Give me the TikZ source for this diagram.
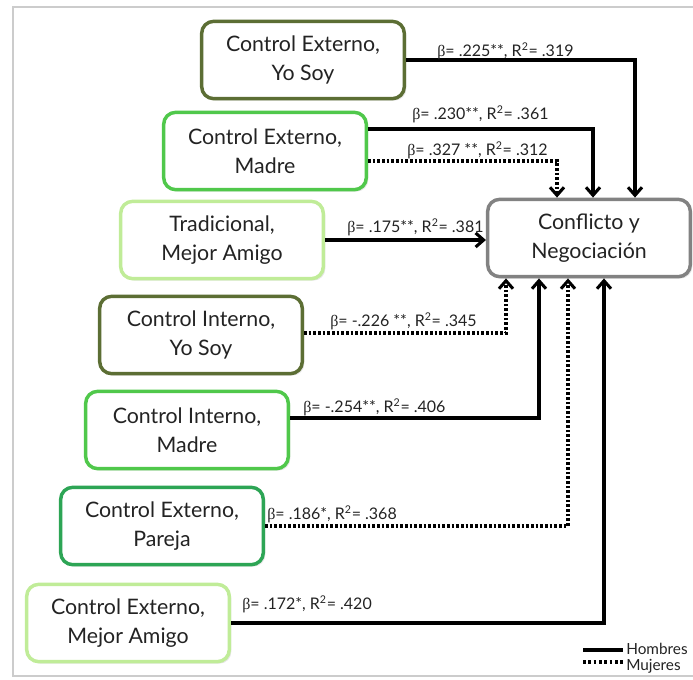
\documentclass[tikz,border=0pt]{standalone}
\usepackage{fontspec}
\setmainfont{Lato}
\newfontfamily\griega{Liberation Serif}
\usetikzlibrary{calc,arrows.meta,shadows}

\definecolor{olivo}{RGB}{92,110,52}
\definecolor{verde}{RGB}{80,200,75}
\definecolor{verdeclaro}{RGB}{192,236,152}
\definecolor{verdemedio}{RGB}{45,165,85}
\definecolor{grisborde}{RGB}{130,130,130}
\definecolor{texto}{RGB}{35,35,35}

\newcommand{\coef}[2]{{\griega β}= #1, R\textsuperscript{2}= #2}

\tikzset{
  caja/.style={draw, line width=2.6pt, rounded corners=9pt, fill=white,
    minimum width=152pt, minimum height=58pt, align=center, text=texto,
    font=\fontsize{16}{22}\selectfont,
    drop shadow={opacity=0.2, shadow xshift=1.5pt, shadow yshift=-1.5pt}},
  etiqueta/.style={anchor=base west, inner sep=0pt, text=texto,
    font=\fontsize{12}{14}\selectfont},
  leyenda/.style={etiqueta, font=\fontsize{11.5}{13}\selectfont},
  hombres/.style={-{Straight Barb[length=6pt,width=10.5pt]}, line width=2.3pt},
  mujeres/.style={hombres, dash pattern=on 2pt off 1.5pt}
}

\begin{document}
\begin{tikzpicture}[x=0.75pt, y=-0.75pt]
  \useasboundingbox (0,0) rectangle (693,679);
  % Outer frame
  \draw[black!20, line width=1pt] (13,7) rectangle (705,676);

  % Predictors
  \node[caja, draw=olivo] (cey) at (303,60) {Control Externo,\\Yo Soy};
  \node[caja, draw=verde] (cem) at (265,151) {Control Externo,\\Madre};
  \node[caja, draw=verdeclaro] (tma) at (222,240) {Tradicional,\\Mejor Amigo};
  \node[caja, draw=olivo] (ciy) at (201,335) {Control Interno,\\Yo Soy};
  \node[caja, draw=verde] (cim) at (187,430) {Control Interno,\\Madre};
  \node[caja, draw=verdemedio] (cep) at (162,526) {Control Externo,\\Pareja};
  \node[caja, draw=verdeclaro] (cema) at (128,623) {Control Externo,\\Mejor Amigo};

  % Outcome
  \node[caja, draw=grisborde] (cn) at (589,238) {Conflicto y\\Negociación};

  % Paths into the outcome
  \draw[hombres] (cey.east) -| ($(cn.north)+(46,0)$);
  \draw[hombres] ($(cem.east)+(0,-22)$) -| ($(cn.north)+(4,0)$);
  \draw[mujeres] ($(cem.east)+(0,10)$) -| ($(cn.north)+(-32,0)$);
  \draw[hombres] (tma.east) -- (tma.east -| cn.west);
  \draw[mujeres] ($(ciy.east)+(0,-2)$) -| ($(cn.south)+(-83,0)$);
  \draw[hombres] ($(cim.east)+(0,-12)$) -| ($(cn.south)+(-50,0)$);
  \draw[mujeres] (cep.east) -| ($(cn.south)+(-21,0)$);
  \draw[hombres] (cema.east) -| ($(cn.south)+(15,0)$);

  % Coefficients
  \node[etiqueta] (b1) at (437,56) {\coef{.225**}{.319}};
  \node[etiqueta] (b2) at (412,119) {\coef{.230**}{.361}};
  \node[etiqueta] (b3) at (407,155) {\coef{.327 **}{.312}};
  \node[etiqueta] (b4) at (347,232) {\coef{.175**}{.381}};
  \node[etiqueta] (b5) at (330,326) {\coef{-.226 **}{.345}};
  \node[etiqueta] (b6) at (303,412) {\coef{-.254**}{.406}};
  \node[etiqueta] (b7) at (267,519) {\coef{.186*}{.368}};
  \node[etiqueta] (b8) at (242,609) {\coef{.172*}{.420}};

  % Legend
  \coordinate (lh) at (583,650);
  \coordinate (lm) at (583,662);
  \draw[line width=2.3pt] (lh) -- ++(40,0);
  \draw[line width=2.3pt, dash pattern=on 2pt off 2pt] (lm) -- ++(40,0);
  \node[leyenda] (lhom) at (626,654) {Hombres};
  \node[leyenda] (lmuj) at (626,670) {Mujeres};
\end{tikzpicture}
\end{document}
